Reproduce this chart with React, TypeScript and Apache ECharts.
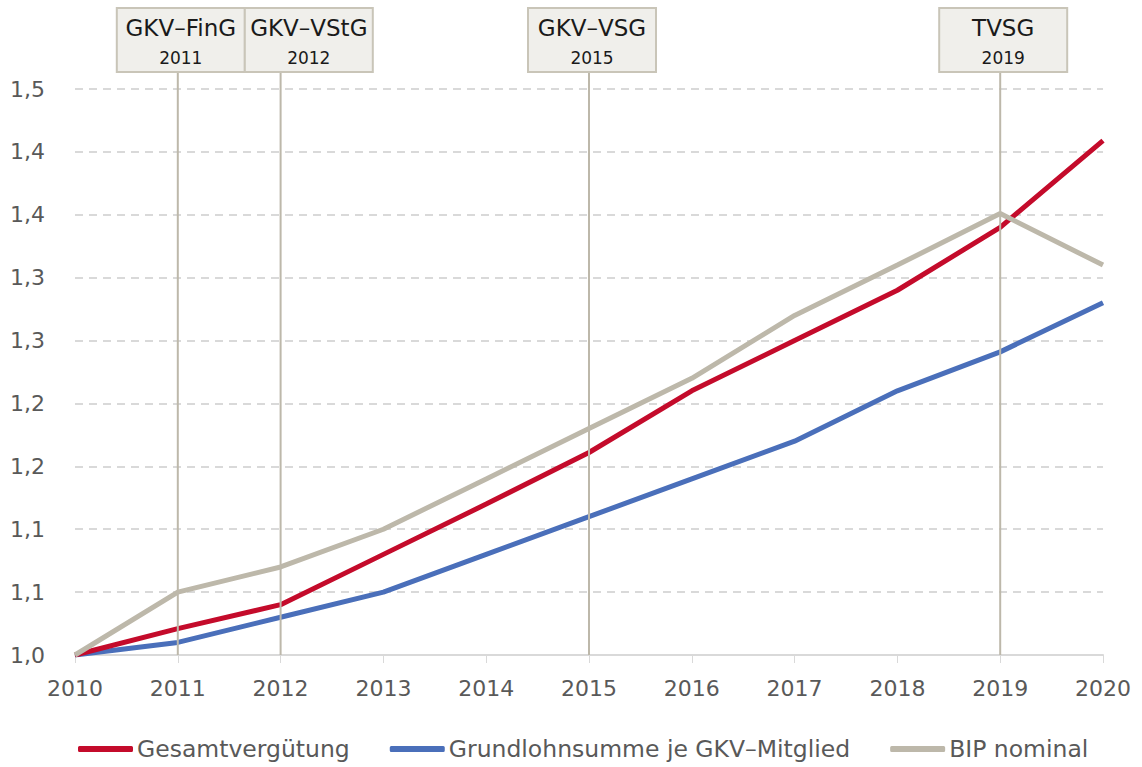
import React, { useEffect, useRef } from "react";
import * as echarts from "echarts";

const years = ["2010", "2011", "2012", "2013", "2014", "2015", "2016", "2017", "2018", "2019", "2020"];
const gesamtverguetung = [1.0, 1.021, 1.04, 1.08, 1.12, 1.161, 1.21, 1.25, 1.29, 1.34, 1.409];
const grundlohnsumme = [1.0, 1.01, 1.03, 1.05, 1.08, 1.11, 1.14, 1.17, 1.21, 1.241, 1.28];
const bipNominal = [1.0, 1.05, 1.07, 1.1, 1.14, 1.18, 1.22, 1.27, 1.31, 1.351, 1.31];
const yTickLabels = ["1,0", "1,1", "1,1", "1,2", "1,2", "1,3", "1,3", "1,4", "1,4", "1,5"];
const lawNames = ["GKV\u2013FinG", "GKV\u2013VStG", "GKV\u2013VSG", "TVSG"];
const lawYears = ["2011", "2012", "2015", "2019"];

const FONT = "DejaVu Sans";

export default function App() {
  const ref = useRef<HTMLDivElement>(null);
  useEffect(() => {
    document.body.style.margin = "0";
    const chart = echarts.init(ref.current!, undefined, { renderer: "svg" });
    const option: any = {
      animation: false,
      backgroundColor: "#ffffff",
      textStyle: { fontFamily: FONT },
      grid: { left: 75, right: 39, top: 89, bottom: 112, containLabel: false },
      legend: {
        left: 73,
        bottom: 1,
        itemWidth: 55,
        itemHeight: 6,
        itemGap: 40,
        icon: "roundRect",
        textStyle: { fontFamily: FONT, fontSize: 23.5, color: "#595959", padding: [0, 0, 0, -1] },
        data: ["Gesamtvergütung", "Grundlohnsumme je GKV\u2013Mitglied", "BIP nominal"],
      },
      xAxis: {
        type: "category",
        data: years,
        boundaryGap: false,
        axisLine: { lineStyle: { color: "#d9d9d9", width: 2 } },
        axisTick: { show: true, length: 8, lineStyle: { color: "#d9d9d9", width: 1 } },
        axisLabel: { fontFamily: FONT, fontSize: 22, color: "#595959", margin: 22 },
      },
      yAxis: {
        type: "value",
        min: 1.0,
        max: 1.45,
        interval: 0.05,
        axisLine: { show: false },
        axisTick: { show: false },
        axisLabel: {
          fontFamily: FONT,
          fontSize: 22,
          color: "#595959",
          margin: 30,
          formatter: (v: number) => yTickLabels[Math.round((v - 1) / 0.05)] ?? "",
        },
        splitLine: { lineStyle: { color: "#d9d9d9", type: [8, 6], width: 2 } },
      },
      series: [
        {
          name: "Grundlohnsumme je GKV\u2013Mitglied",
          type: "line",
          data: grundlohnsumme,
          symbol: "none",
          lineStyle: { width: 5, color: "#4a6fba" },
          itemStyle: { color: "#4a6fba" },
        },
        {
          name: "Gesamtvergütung",
          type: "line",
          data: gesamtverguetung,
          symbol: "none",
          lineStyle: { width: 5, color: "#c40b2b" },
          itemStyle: { color: "#c40b2b" },
        },
        {
          name: "BIP nominal",
          type: "line",
          data: bipNominal,
          symbol: "none",
          lineStyle: { width: 5, color: "#bdb8aa" },
          itemStyle: { color: "#bdb8aa" },
        },
      ],
    };
    chart.setOption(option);

    const boxW = 128;
    const boxH = 64;
    const boxTop = 8;
    const yBottom = chart.convertToPixel({ yAxisIndex: 0 }, 1.0) as number;
    const graphics: any[] = [];
    let prevRight = -Infinity;
    lawYears.forEach((yr, i) => {
      const x = chart.convertToPixel({ xAxisIndex: 0 }, yr) as number;
      let left = x + 3 - boxW / 2;
      if (left < prevRight) left = prevRight;
      prevRight = left + boxW;
      graphics.push({
        type: "line",
        z: 100,
        shape: { x1: x, y1: boxTop + boxH, x2: x, y2: yBottom },
        style: { stroke: "#bdb8aa", lineWidth: 2 },
      });
      graphics.push({
        type: "rect",
        z: 101,
        shape: { x: left, y: boxTop, width: boxW, height: boxH },
        style: { fill: "#f0efeb", stroke: "#c9c5b8", lineWidth: 2 },
      });
      graphics.push({
        type: "text",
        z: 102,
        x: left + boxW / 2,
        y: boxTop + 20,
        style: {
          text: lawNames[i],
          fontFamily: FONT,
          fontSize: 23,
          fill: "#1a1a1a",
          align: "center",
          verticalAlign: "middle",
        },
      });
      graphics.push({
        type: "text",
        z: 102,
        x: left + boxW / 2,
        y: boxTop + 50,
        style: {
          text: yr,
          fontFamily: FONT,
          fontSize: 17,
          fill: "#1a1a1a",
          align: "center",
          verticalAlign: "middle",
        },
      });
    });
    chart.setOption({ graphic: graphics });

    return () => chart.dispose();
  }, []);
  return <div ref={ref} style={{ width: 1142, height: 767 }} />;
}
